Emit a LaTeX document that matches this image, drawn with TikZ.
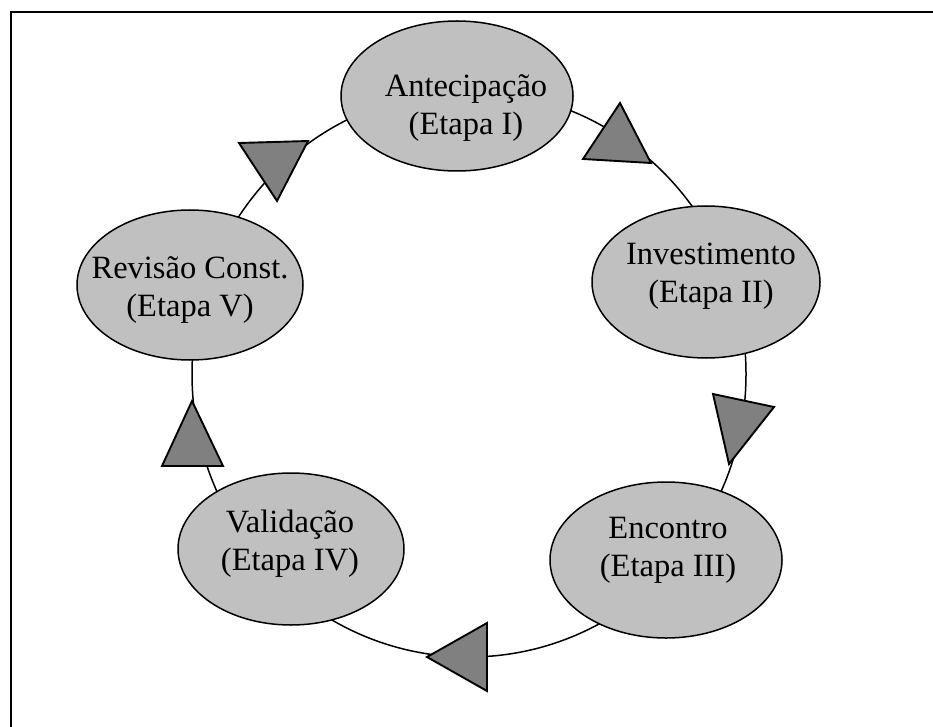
\documentclass[tikz,border=0pt]{standalone}
\usepackage{fontspec}
\setmainfont{Liberation Serif}
\usetikzlibrary{shapes.geometric}
\definecolor{stagefill}{RGB}{192,192,192}
\definecolor{markerfill}{RGB}{128,128,128}
\begin{document}
\begin{tikzpicture}[x=1pt,y=-1pt,
  stage/.style={ellipse, draw=black, line width=1.5pt, fill=stagefill, inner sep=0pt},
  stagetext/.style={align=center, font=\fontsize{32.5}{38}\selectfont, inner sep=0pt},
  marker/.style={draw=black, line width=1.9pt, fill=markerfill, line join=miter},
  ring/.style={draw=black, line width=1.5pt},
  frame/.style={draw=black, line width=2.4pt}]
\useasboundingbox (0,0) rectangle (933,727);
\draw[frame] (11,727) -- (11,12) -- (933,12);
% ring connecting the stages
\coordinate (ringc) at (469,374);
\draw[ring] (ringc) ellipse [x radius=277, y radius=283];
% stages
\node[stage, minimum width=232pt, minimum height=150pt] (e1) at (457,96) {};
\node[stage, minimum width=228pt, minimum height=152pt] (e2) at (706,282) {};
\node[stage, minimum width=232pt, minimum height=156pt] (e3) at (666,560) {};
\node[stage, minimum width=226pt, minimum height=152pt] (e4) at (291,549) {};
\node[stage, minimum width=226pt, minimum height=150pt] (e5) at (190,285) {};
\node[stagetext] (t1) at (466,108) {Antecipação\\(Etapa I)};
\node[stagetext] (t2) at (711,276) {Investimento\\(Etapa II)};
\node[stagetext] (t3) at (668,550) {Encontro\\(Etapa III)};
\node[stagetext] (t4) at (290,544) {Validação\\(Etapa IV)};
\node[stagetext] (t5) at (190,290) {Revisão Const.\\(Etapa V)};
% direction markers
\draw[marker] (620,103) -- (583,159) -- (651,163) -- cycle;
\draw[marker] (713,394) -- (774,407) -- (729,464) -- cycle;
\draw[marker] (427,657) -- (487,623) -- (487,691) -- cycle;
\draw[marker] (192,401) -- (162,466) -- (223,466) -- cycle;
\draw[marker] (239,143) -- (308,141) -- (277,201) -- cycle;
\end{tikzpicture}
\end{document}
